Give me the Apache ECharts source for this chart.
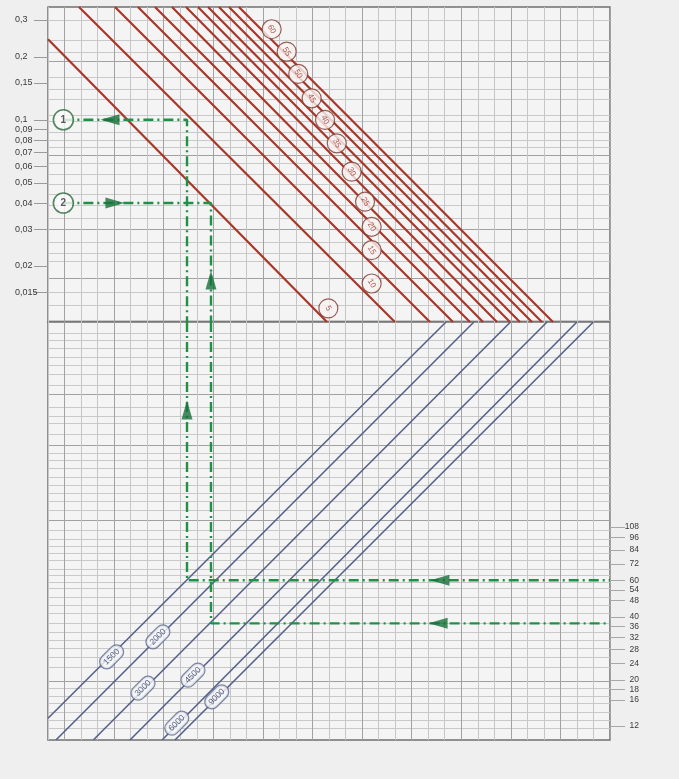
<!DOCTYPE html>
<html><head><meta charset="utf-8">
<script src="https://cdn.jsdelivr.net/npm/echarts/dist/echarts.min.js"></script>
<style>html,body{margin:0;padding:0;background:#efefef}#c{width:679px;height:779px}</style>
</head><body><div id="c"></div>
<script>
const L = Math.log10;

// ---- axis ranges ----
const xRange = [0, 34];
const upperRange = [0.0108, 0.346];
const lowerRange = [10.3, 1037];

// ---- tick labels ----
const upperTickValues = [0.3, 0.2, 0.15, 0.1, 0.09, 0.08, 0.07, 0.06, 0.05, 0.04, 0.03, 0.02, 0.015];
const lowerTickValues = [108, 96, 84, 72, 60, 54, 48, 40, 36, 32, 28, 24, 20, 18, 16, 12];

// ---- grid lines ----
const upperGridValues = [0.3, 0.24, 0.21, 0.19, 0.16, 0.14, 0.125, 0.105, 0.098, 0.087, 0.08, 0.074, 0.068, 0.062, 0.055, 0.049, 0.044, 0.039, 0.034, 0.03, 0.026, 0.023, 0.021, 0.0175, 0.015, 0.013, 0.011];
const upperGridDark = [0.19, 0.068, 0.03, 0.0175];
const lowerGridValues = [915, 850, 775, 705, 645, 580, 515, 465, 405, 365, 340, 300, 267, 243, 226, 206, 188, 172, 157, 143, 130, 117, 104, 94, 87, 81, 75, 68, 63.5, 59, 55, 50, 45.5, 41.5, 37.5, 34, 31, 28.3, 25.8, 23, 19.6, 18.2, 16.6, 15.4, 14, 12.8, 11.7];
const lowerGridDark = [465, 267, 117, 19.6];

// ---- red family (upper panel) ----
const redNames = ['5', '10', '15', '20', '25', '30', '35', '40', '45', '50', '55', '60'];
const redStart = [[0, 0.2427], [1.875, 0.346], [4.05, 0.346], [5.44, 0.346], [6.47, 0.346], [7.50, 0.346], [8.35, 0.346], [9.07, 0.346], [9.68, 0.346], [10.34, 0.346], [10.95, 0.346], [11.55, 0.346]];
const redEnd = [[16.88, 0.0108], [20.99, 0.0108], [23.11, 0.0108], [24.50, 0.0108], [25.53, 0.0108], [26.32, 0.0108], [27.16, 0.0108], [27.95, 0.0108], [28.55, 0.0108], [29.28, 0.0108], [29.88, 0.0108], [30.55, 0.0108]];
const redLabelPos = [[16.96, 0.01255], [19.58, 0.0165], [19.58, 0.0238], [19.58, 0.0308], [19.18, 0.0406], [18.37, 0.0565], [17.47, 0.0772], [16.76, 0.0998], [15.95, 0.1267], [15.14, 0.1656], [14.44, 0.2117], [13.53, 0.2709]];

// ---- blue family (lower panel) ----
const blueNames = ['1500', '2000', '3000', '4500', '6000', '9000'];
const blueStart = [[0, 13.1], [0.48, 10.3], [2.74, 10.3], [4.96, 10.3], [6.90, 10.3], [7.68, 10.3]];
const blueEnd = [[24.08, 1037], [25.77, 1037], [27.98, 1037], [30.19, 1037], [32.00, 1037], [32.99, 1037]];
const blueLabelPos = [[3.85, 25.78], [6.65, 32.15], [5.75, 18.25], [8.77, 21.07], [7.79, 12.4], [10.21, 16.58]];

// ---- green example paths ----
const path1Upper = [[0.93, 0.1], [8.41, 0.1], [8.41, 0.0108]];
const path1Lower = [[8.41, 1037], [8.41, 60], [34, 60]];
const path2Upper = [[0.93, 0.04], [9.86, 0.04], [9.86, 0.0108]];
const path2Lower = [[9.86, 1037], [9.86, 37.3], [34, 37.3]];
const markerNames = ['1', '2'];
const markerPos = [[0.93, 0.1], [0.93, 0.04]];
const arrowsUpper = [[3.75, 0.1, 'left'], [4.05, 0.04, 'right'], [9.86, 0.01714, 'up']];
const arrowsLower = [[8.41, 392.7, 'up'], [23.71, 60, 'left'], [23.6, 37.3, 'left']];

// ---------------------------------------------------------------
const FONT = 'Liberation Sans, Arial, sans-serif';
const rotFor = { left: 90, right: -90, up: 0 };
const toXY = p => [p[0], L(p[1])];

function yAx(grid, range, extra) {
  return Object.assign({
    type: 'value', gridIndex: grid, min: L(range[0]), max: L(range[1]),
    axisLine: { show: false, onZero: false }, axisTick: { show: false },
    axisLabel: { show: false }, splitLine: { show: false }
  }, extra);
}
function xAx(grid) {
  return {
    type: 'value', gridIndex: grid, min: xRange[0], max: xRange[1], interval: 1,
    axisLine: { show: false, onZero: false }, axisTick: { show: false }, axisLabel: { show: false },
    splitLine: { show: true, lineStyle: { color: ['#c6c6c6', '#a2a2a2', '#c6c6c6'], width: 1 } }
  };
}
const fmtUpper = v => String(Number(Math.pow(10, v).toPrecision(6))).replace('.', ',');
const fmtLower = v => String(Math.round(Math.pow(10, v)));

const yAxes = [
  // upper panel: 0 labels, 1 light grid, 2 dark grid
  yAx(0, upperRange, {
    position: 'left',
    axisTick: { show: true, customValues: upperTickValues.map(L), length: 14, lineStyle: { color: '#9a9a9a' } },
    axisLabel: { show: true, customValues: upperTickValues.map(L), formatter: fmtUpper, align: 'left', margin: 33, fontSize: 9, color: '#3a3a3a', fontFamily: FONT }
  }),
  yAx(0, upperRange, { position: 'left', axisTick: { show: false, customValues: upperGridValues.map(L) }, splitLine: { show: true, lineStyle: { color: '#c9c9c9', width: 1 } } }),
  yAx(0, upperRange, { position: 'left', axisTick: { show: false, customValues: upperGridDark.map(L) }, splitLine: { show: true, lineStyle: { color: '#a0a0a0', width: 1 } } }),
  // lower panel: 3 labels, 4 light grid, 5 dark grid
  yAx(1, lowerRange, {
    position: 'right',
    axisTick: { show: true, customValues: lowerTickValues.map(L), length: 15, lineStyle: { color: '#a8a8a8' } },
    axisLabel: { show: true, customValues: lowerTickValues.map(L), formatter: fmtLower, align: 'right', margin: 29, fontSize: 8.5, color: '#3a3a3a', fontFamily: FONT }
  }),
  yAx(1, lowerRange, { position: 'right', axisTick: { show: false, customValues: lowerGridValues.map(L) }, splitLine: { show: true, lineStyle: { color: '#c9c9c9', width: 1 } } }),
  yAx(1, lowerRange, { position: 'right', axisTick: { show: false, customValues: lowerGridDark.map(L) }, splitLine: { show: true, lineStyle: { color: '#a0a0a0', width: 1 } } })
];

const series = [];
// red lines
redNames.forEach((n, i) => {
  series.push({
    type: 'line', name: 'Q' + n, xAxisIndex: 0, yAxisIndex: 0, silent: true, symbol: 'none', z: 3,
    data: [toXY(redStart[i]), toXY(redEnd[i])],
    lineStyle: { color: '#a8372a', width: 2.2 }
  });
});
// blue lines
blueNames.forEach((n, i) => {
  series.push({
    type: 'line', name: 'B' + n, xAxisIndex: 1, yAxisIndex: 3, silent: true, symbol: 'none', z: 3,
    data: [toXY(blueStart[i]), toXY(blueEnd[i])],
    lineStyle: { color: '#56618a', width: 1.6 }
  });
});
// green paths
const greenStyle = { color: '#1f9147', width: 2.4, type: [10, 4, 2, 4] };
[[path1Upper, 0, 0], [path2Upper, 0, 0], [path1Lower, 1, 3], [path2Lower, 1, 3]].forEach(([p, xi, yi]) => {
  series.push({
    type: 'line', xAxisIndex: xi, yAxisIndex: yi, silent: true, symbol: 'none', z: 5,
    data: p.map(toXY), lineStyle: greenStyle
  });
});
// arrows
[[arrowsUpper, 0, 0], [arrowsLower, 1, 3]].forEach(([arr, xi, yi]) => {
  series.push({
    type: 'scatter', xAxisIndex: xi, yAxisIndex: yi, silent: true, z: 6,
    symbol: 'triangle', symbolSize: [11, 19],
    itemStyle: { color: '#17703a' },
    data: arr.map(a => ({ value: [a[0], L(a[1])], symbolRotate: rotFor[a[2]] }))
  });
});
// red curve labels
series.push({
  type: 'scatter', xAxisIndex: 0, yAxisIndex: 0, silent: true, z: 7,
  symbol: 'circle', symbolSize: 19,
  itemStyle: { color: '#f8f3f1', borderColor: '#7e3a2e', borderWidth: 1.2 },
  label: { show: true, position: 'inside', formatter: '{b}', rotate: -60, fontSize: 8, color: '#9c3022', fontFamily: FONT },
  data: redNames.map((n, i) => ({ name: n, value: toXY(redLabelPos[i]) }))
});
// blue curve labels
series.push({
  type: 'scatter', xAxisIndex: 1, yAxisIndex: 3, silent: true, z: 7,
  symbol: 'circle', symbolSize: 1, itemStyle: { color: 'rgba(0,0,0,0)' },
  label: {
    show: true, position: 'inside', formatter: '{b}', rotate: 45, fontSize: 8.5, color: '#2c3763', fontFamily: FONT,
    backgroundColor: '#f6f7f9', borderColor: '#5f6a8e', borderWidth: 1.2, borderRadius: 7, padding: [2, 4]
  },
  data: blueNames.map((n, i) => ({ name: n, value: toXY(blueLabelPos[i]) }))
});
// numbered start markers
series.push({
  type: 'scatter', xAxisIndex: 0, yAxisIndex: 0, silent: true, z: 8,
  symbol: 'circle', symbolSize: 20,
  itemStyle: { color: '#fbfbfb', borderColor: '#2c6a3c', borderWidth: 1.6 },
  label: { show: true, position: 'inside', formatter: '{b}', fontSize: 10, fontWeight: 'bold', color: '#333', fontFamily: FONT },
  data: markerNames.map((n, i) => ({ name: n, value: toXY(markerPos[i]) }))
});

const chart = echarts.init(document.getElementById('c'), null, { renderer: 'canvas' });
chart.setOption({
  animation: false,
  backgroundColor: '#efefef',
  grid: [
    { left: 48, top: 7, width: 562, height: 315, show: true, backgroundColor: '#f4f4f4', borderColor: '#707070', borderWidth: 1.5 },
    { left: 48, top: 322, width: 562, height: 418, show: true, backgroundColor: '#f4f4f4', borderColor: '#707070', borderWidth: 1.5 }
  ],
  xAxis: [xAx(0), xAx(1)],
  yAxis: yAxes,
  series: series
});
</script></body></html>
